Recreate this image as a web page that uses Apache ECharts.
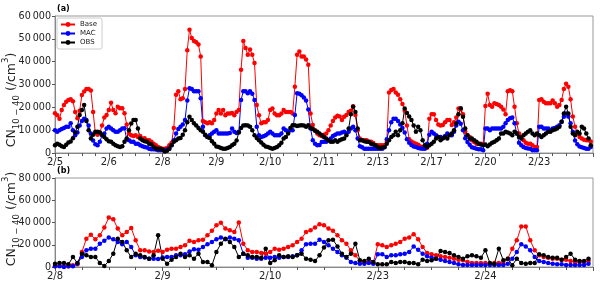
<!DOCTYPE html>
<html><head><meta charset="utf-8">
<script src="https://cdn.jsdelivr.net/npm/echarts@6/dist/echarts.min.js"></script>
<style>html,body{margin:0;padding:0;background:#fff}#c{width:600px;height:287px}</style>
</head><body><div id="c"></div>
<script>
// ---- tick labels ----
const topDayLabels = ['2/5','2/6','2/8','2/9','2/10','2/11','2/13','2/17','2/20','2/23'];
const bottomDayLabels = ['2/8','2/9','2/10','2/23','2/24'];

// ---- panel (a): hourly CN10-40 (/cm3) ----
const topBase = [
17400,16500,15000,18800,21000,22500,23200,23500,22700,18000,15200,18500,25400,26900,28000,28000,27400,18000,8700,8000,9000,12000,15500,16600,
18800,22000,18800,17400,20300,19600,19600,17400,12500,8500,7800,7500,7800,7000,7500,6300,6500,5600,5600,4900,4100,3400,2600,2200,
1900,1900,2200,3400,4500,11000,25500,27000,23500,24000,28000,45000,54000,50400,49000,48500,47500,42300,14000,13500,13000,13500,13000,14400,
17300,18800,17300,18800,16500,17300,17300,17500,16500,18000,18800,36500,49000,46000,43000,45300,43000,39400,21000,16500,13000,13500,13500,14400,
18800,19500,17300,16500,16500,17300,18800,18000,18000,18000,17300,29000,43000,44500,42300,42300,41000,38600,17300,12300,10000,8500,7800,7500,
8000,8500,10000,12000,14000,15500,16300,16000,14400,15900,16600,18000,18500,20500,16600,10000,6300,5600,5600,5600,4900,4900,4400,3400,
3400,3400,3400,3400,4900,26500,27600,28000,26500,25500,23500,21500,18500,12000,6000,5000,4500,4000,3600,2800,2600,2600,2300,15000,
17000,17000,14400,12500,12000,12300,13500,14400,14500,12300,13500,15500,19500,19000,17000,9300,7800,7000,5600,4800,4100,4100,4100,3800,
20600,25900,21000,20300,21800,21500,21000,20300,19000,17000,27000,27500,27000,20300,13000,8500,7000,5600,4500,4100,4100,3400,2600,2600,
23200,23500,22500,21800,21800,21800,23000,21800,20300,21000,23200,28000,30300,29000,23500,16000,11500,8500,7000,6300,5800,5600,5600,5000
];
const topMAC = [
10000,9300,10000,10500,11000,11500,11500,13000,10000,7800,9000,12000,14000,15000,14400,12000,8500,5500,3800,3400,4900,7800,8500,10700,
11500,10700,10000,9300,9300,10000,10700,10800,6000,5600,4900,4900,4100,4100,3400,3000,2600,2400,1900,1600,1600,1500,1200,1200,
1200,1200,1500,1900,3400,5600,8500,10500,11500,12500,14500,23000,28400,28000,27000,27000,27000,24000,11500,7800,7000,7800,8500,9300,
10000,8500,8500,8500,8500,8500,8800,10700,9300,8800,9300,23200,27000,27000,26200,27000,26000,23200,11500,7800,7000,7300,7800,8500,
9300,8500,7800,7800,7800,8500,10700,10000,9300,10000,10000,16600,26200,26000,25300,24300,23000,19000,10700,5600,4100,3400,3500,4800,
4900,4900,5500,6300,7500,8000,8500,8500,9000,9300,8500,9300,10700,11500,10000,6300,3000,2500,1900,1900,1900,1900,1900,1900,
1900,1900,1900,2500,6000,10000,13500,15000,15000,14000,12500,11000,9000,6000,4500,3500,2800,2600,2200,2000,1900,1900,4000,8000,
9300,8500,7800,7000,7000,6600,7400,8500,8000,7800,9300,12000,13700,12800,10000,6500,4800,3600,2500,2200,1900,1600,1600,1200,
10700,10700,10000,10700,10700,10700,10700,10700,11500,13000,14400,15200,15500,13000,8500,4500,3400,2600,2200,2000,1900,1200,1200,1200,
11500,11500,10700,10700,10700,10000,10700,11000,11500,12200,13700,15900,17300,16000,13000,9300,5500,3800,2800,2500,2200,1900,1900,2600
];
const topOBS = [
3400,4100,3600,3000,2600,3600,4600,5000,6500,9000,11500,16600,18800,21000,14000,10000,6300,8000,9300,9300,9000,8000,7000,6000,
5200,4900,4100,3400,3000,2600,3000,4900,6300,10000,12900,14400,14400,10700,6300,5600,5200,4900,4100,3700,2600,2000,1900,1900,
1500,700,1000,1900,3400,4900,5600,6300,6600,8000,10000,13500,15900,14400,13000,12000,11000,10000,9300,8000,7000,6600,5200,4000,
2900,2600,2200,1900,1900,2200,2600,3400,4100,5500,9000,11000,12000,12200,12000,11500,10000,7800,6600,5600,4600,3600,2900,2600,
2200,1900,2200,2600,3400,4500,6300,7000,8500,11000,12200,12200,11800,12000,12200,12000,11500,12200,11000,10500,9700,9300,8500,7800,
7000,6300,5600,4900,4900,5600,4900,5600,6000,6300,7800,10700,17000,20300,18000,10700,5600,5600,5200,4900,4900,4100,3700,3400,
2600,2200,2400,2600,4100,5600,7000,7800,9300,7800,10000,13000,19500,17500,16000,14500,12000,9300,11500,10000,5600,3400,2600,3400,
4100,4900,6300,7000,5600,6300,7000,6300,7800,8500,10000,12900,17000,19600,15900,10700,7800,6300,6300,5600,4900,4100,3700,3400,
3700,3000,3700,4500,4900,5600,6300,8500,8500,9300,9000,8500,7800,9300,8500,7000,6300,7800,8500,9300,10000,8500,7800,8500,
7800,7000,7800,8500,9300,9300,10000,10300,10700,11500,13700,17300,20300,17300,11500,8500,7800,9300,8500,11500,10700,8500,6300,3400
];

// ---- panel (b) ----
const botBase = [
600,1500,600,600,1500,2400,13500,25500,29000,25000,28500,35500,44500,43000,34500,28500,31500,35000,24000,15000,15000,14000,13500,14500,
13500,15500,16500,16500,18000,19500,23500,22500,24000,24500,28500,32500,37500,39700,34500,33000,31500,40000,21000,15000,13500,13500,12600,12000,
13500,16500,15600,16500,18000,19500,22500,25500,31500,33000,35500,38500,37500,34500,32500,28500,24000,21000,15000,10500,5400,4500,4500,3600,
20500,19500,18000,19500,21000,22500,25500,26500,29500,25000,18000,12600,11400,10500,9600,9000,8400,7500,6600,6000,4500,3600,3600,3600,
3600,3000,3600,3600,3600,7500,16500,24000,36500,36500,24000,15000,10500,9000,8400,7500,7500,6600,6600,5400,4500,4500,4500,5400
];
const botMAC = [
600,600,0,600,600,3000,9000,15000,16500,16500,21000,23500,26500,25000,22500,20500,22500,18000,10500,9000,8500,7500,7500,7200,
8500,9000,9000,10500,10500,11400,14000,16000,15500,18000,20500,22500,25000,26500,25000,26500,25500,24000,12000,8400,8400,7500,7500,8400,
8400,9000,8400,9000,9000,9600,10500,15000,20500,21000,21000,24500,22500,19500,16500,13500,10500,8400,4500,3600,3000,3000,3600,3000,
11400,11400,9000,10500,10500,11400,12000,13500,18500,15500,12000,9600,8400,7500,6600,5400,4500,3600,2400,1800,1800,1800,1800,1800,
1800,1800,1800,1800,1800,3000,7500,13500,20500,18500,15000,9000,5400,4500,3600,3000,2400,2400,1800,1800,1800,1800,1800,3000
];
const botOBS = [
3000,3600,3600,2400,9000,3600,12000,10500,9000,9000,3600,900,5400,12000,25500,22500,15000,9000,12000,10500,9000,7500,10500,28500,
7500,3000,6600,9000,12000,9000,10500,7500,12000,4500,4500,1500,13500,21000,25500,22500,18000,9000,12000,10500,9000,9000,8400,16500,
3600,6000,10500,9000,9600,9000,10500,12000,7500,6600,5400,10500,17500,24000,24500,18500,12000,9000,12000,21000,6000,5400,7500,4500,
2400,2400,2400,4500,3600,4500,4500,3600,3600,2400,6600,5400,6000,7500,14400,13500,12600,10500,9000,7500,9600,10500,9600,8400,
15000,3600,3000,16500,6000,7500,1500,7500,3600,3000,3600,3600,11400,10500,9000,8400,8400,6600,9000,12000,6600,5400,5400,7500
];

const FONT = 'DejaVu Sans';
const chart = echarts.init(document.getElementById('c'), null, {renderer: 'canvas'});
const pairs = arr => arr.map((v, i) => [i, v]);
const yFmt = v => v === 0 ? '0' : (v / 1000) + '\u2009000';

function xAx(grid, max, labels) {
  return {
    gridIndex: grid, type: 'value', min: 0, max: max, interval: 24,
    axisLine: {onZero: false, lineStyle: {color: '#888', width: 1}},
    axisTick: {show: true, length: 4, lineStyle: {color: '#555'}},
    minorTick: {show: true, splitNumber: 4, length: 3, lineStyle: {color: '#555'}},
    splitLine: {show: false}, minorSplitLine: {show: false},
    axisLabel: {
      fontFamily: FONT, fontSize: 10, color: '#222', margin: 4,
      formatter: v => (v % 24 === 0 && labels[v / 24] !== undefined) ? labels[v / 24] : ''
    }
  };
}
function yAx(grid, max, interval) {
  return {
    gridIndex: grid, type: 'value', min: 0, max: max, interval: interval,
    axisLine: {show: true, lineStyle: {color: '#888', width: 1}},
    axisTick: {show: true, length: 3, lineStyle: {color: '#555'}},
    splitLine: {show: false},
    axisLabel: {fontFamily: FONT, fontSize: 9.6, color: '#222', margin: 4, formatter: yFmt}
  };
}
function ser(name, data, color, xi) {
  return {
    type: 'line', name: name, xAxisIndex: xi, yAxisIndex: xi, data: pairs(data),
    symbol: 'circle', symbolSize: 4.5, showSymbol: true,
    itemStyle: {color: color}, lineStyle: {color: color, width: 1},
    animation: false, clip: true, emphasis: {disabled: true}
  };
}
const nameRich = {
  m: {fontFamily: FONT, fontSize: 12.5, lineHeight: 20, fill: '#222', color: '#222'},
  s: {fontFamily: FONT, fontSize: 8.5, lineHeight: 9, verticalAlign: 'bottom', fill: '#222', color: '#222'},
  p: {fontFamily: FONT, fontSize: 8.5, lineHeight: 9, verticalAlign: 'top', fill: '#222', color: '#222'}
};
const nameText = '{m|CN}{s|10 \u2212 40}{m| (/cm}{p|3}{m|)}';

chart.setOption({
  backgroundColor: '#fff',
  animation: false,
  grid: [
    {left: 55, top: 16, width: 538, height: 137, show: true, borderColor: '#999', borderWidth: 1},
    {left: 55, top: 178, width: 538, height: 89, show: true, borderColor: '#999', borderWidth: 1}
  ],
  xAxis: [xAx(0, 240, topDayLabels), xAx(1, 120, bottomDayLabels)],
  yAxis: [yAx(0, 60000, 10000), yAx(1, 80000, 20000)],
  legend: {
    data: ['Base', 'MAC', 'OBS'], left: 57, top: 18, orient: 'vertical',
    itemWidth: 14, itemHeight: 6, itemGap: 2, padding: [3, 5, 3, 3],
    borderColor: '#ccc', borderWidth: 1, borderRadius: 2, backgroundColor: '#fff',
    textStyle: {fontFamily: FONT, fontSize: 7, color: '#222'}
  },
  graphic: [
    {type: 'text', x: 57, y: 5, style: {text: '(a)', font: 'bold 8px "DejaVu Sans"', fill: '#000'}},
    {type: 'text', x: 57, y: 167, style: {text: '(b)', font: 'bold 8px "DejaVu Sans"', fill: '#000'}},
    {type: 'text', x: 11.5, y: 100, rotation: Math.PI / 2,
     style: {text: nameText, rich: nameRich, align: 'center', verticalAlign: 'middle', fill: '#222'}},
    {type: 'text', x: 11.5, y: 219, rotation: Math.PI / 2,
     style: {text: nameText, rich: nameRich, align: 'center', verticalAlign: 'middle', fill: '#222'}}
  ],
  series: [
    ser('Base', topBase, '#ff0000', 0),
    ser('MAC', topMAC, '#0000ff', 0),
    ser('OBS', topOBS, '#000000', 0),
    ser('Base', botBase, '#ff0000', 1),
    ser('MAC', botMAC, '#0000ff', 1),
    ser('OBS', botOBS, '#000000', 1)
  ]
});
</script>
</body></html>
